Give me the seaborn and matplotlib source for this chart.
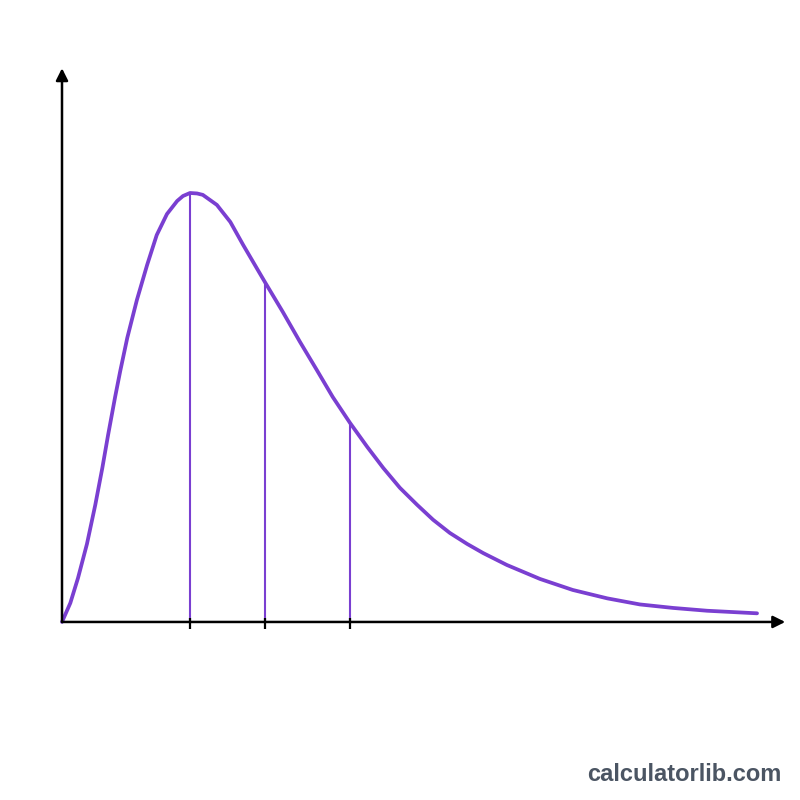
import matplotlib
matplotlib.use("Agg")
import matplotlib.pyplot as plt
import seaborn as sns
import pandas as pd

# curve (right-skewed density)
x_vals = [0, 0.13, 0.25, 0.39, 0.52, 0.63, 0.72, 0.83, 0.91, 1.02, 1.17, 1.33, 1.48,
          1.64, 1.80, 1.89, 2.0, 2.11, 2.20, 2.42, 2.63, 2.83, 3.05, 3.17, 3.45, 3.72,
          3.98, 4.23, 4.50, 4.77, 5.02, 5.28, 5.55, 5.80, 6.06, 6.33, 6.58, 6.95, 7.47,
          7.98, 8.52, 9.03, 9.55, 10.08, 10.86]
density = [0, 0.0081, 0.0188, 0.0334, 0.0501, 0.0659, 0.0800, 0.0963, 0.1074, 0.1216,
           0.1378, 0.1528, 0.1656, 0.1746, 0.1802, 0.1823, 0.1836, 0.1834, 0.1828, 0.1785,
           0.1712, 0.1614, 0.1511, 0.1455, 0.1327, 0.1198, 0.1079, 0.0963, 0.0852, 0.0749,
           0.0659, 0.0574, 0.0501, 0.0437, 0.0381, 0.0334, 0.0295, 0.0244, 0.0184, 0.0137,
           0.0101, 0.0075, 0.0060, 0.0048, 0.0037]

# mode, median, mean markers
marker_x = [2.0, 3.17, 4.50]
marker_h = [0.1836, 0.1455, 0.0852]

purple = "#7a3fd1"

sns.set_style("white")
fig = plt.figure(figsize=(8, 8), dpi=100)
ax = fig.add_axes([0, 0, 1, 1])

df = pd.DataFrame({"x": x_vals, "density": density})
sns.lineplot(data=df, x="x", y="density", ax=ax, color=purple, linewidth=2.7,
             sort=False)

ax.vlines(marker_x, 0, marker_h, color=purple, linewidth=1.5)
ax.vlines(marker_x, -0.003, 0.0015, color="black", linewidth=1.6)

# axes with arrows
arrow = dict(arrowstyle="-|>", color="black", lw=1.8, mutation_scale=18, shrinkA=0, shrinkB=0)
ax.annotate("", xy=(11.30, 0), xytext=(0, 0), arrowprops=arrow)
ax.annotate("", xy=(0, 0.237), xytext=(0, 0), arrowprops=arrow)

ax.set_xlim(-62 / 64, 738 / 64)
ax.set_ylim(-0.0762, 0.2662)
ax.axis("off")

fig.text(782 / 800, 1 - 781 / 800, "calculatorlib.com", ha="right", va="baseline",
         fontsize=17, fontweight="bold", color="#4b5563", family="Liberation Sans")

fig.savefig("out.png", dpi=100, facecolor="white")
